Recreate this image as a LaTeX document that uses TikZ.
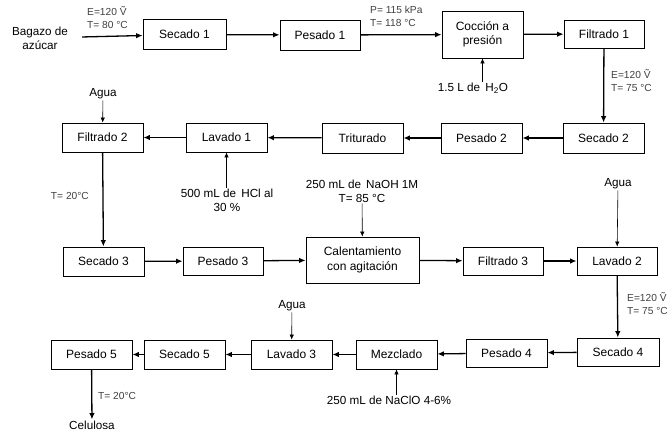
\documentclass[tikz,border=0pt]{standalone}
\usepackage{fontspec}
\setmainfont{Liberation Sans}
\usetikzlibrary{arrows.meta}

\tikzset{
  proc/.style={draw, line width=0.8pt, minimum width=81pt, minimum height=29pt, inner sep=1pt, align=center, font=\fontsize{12}{14.5}\selectfont},
  flow/.style={-{Latex[length=6.5pt,width=5.5pt]}, line width=1.3pt},
  feed/.style={-{Latex[length=5pt,width=4.5pt]}, line width=0.6pt},
  note/.style={align=center, inner sep=1pt, font=\fontsize{11.7}{14}\selectfont},
  cond/.style={align=left, inner sep=0pt, text=black!75, font=\fontsize{10.2}{13}\selectfont},
}

\begin{document}
\begin{tikzpicture}[x=1pt, y=-1pt]
			\useasboundingbox (0,0) rectangle (669,433);
			%% fila 1
			\node[note, inner xsep=14pt] (bag) at (40,38) {Bagazo de\\az\'ucar};
			\node[proc, minimum width=83pt, minimum height=30pt] (sec1) at (184.5,34.5) {Secado 1};
			\node[proc, minimum width=80pt, minimum height=30pt] (pes1) at (320,35) {Pesado 1};
			\node[proc, minimum height=47pt] (coc) at (482.5,34.5) {Cocci\'on a\\presi\'on};
			\node[proc, minimum width=80pt, minimum height=28pt] (fil1) at (604,34) {Filtrado 1};
			\node[note] (h2o) at (473,88) {1.5 L de \,H\textsubscript{2}O};
			%% fila 2
			\node[proc, minimum height=30pt] (sec2) at (603.5,138) {Secado 2};
			\node[proc, minimum height=30pt] (pes2) at (481.5,138) {Pesado 2};
			\node[proc, minimum height=30pt] (tri) at (362.5,138) {Triturado};
			\node[proc] (lav1) at (226.5,137.5) {Lavado 1};
			\node[proc] (fil2) at (102.5,137.5) {Filtrado 2};
			\node[note] (agua1) at (103,94) {Agua};
			\node[note] (hcl) at (227,200) {500 mL de \,HCl al\\30 \%};
			%% fila 3
			\node[proc] (sec3) at (103.5,261.5) {Secado 3};
			\node[proc, minimum width=80pt, minimum height=28pt] (pes3) at (223,261) {Pesado 3};
			\node[proc, minimum width=113pt, minimum height=46pt] (cal) at (362.5,260) {Calentamiento\\con agitaci\'on};
			\node[proc, minimum width=80pt, minimum height=28pt] (fil3) at (503,261) {Filtrado 3};
			\node[proc, minimum width=80pt, minimum height=28pt] (lav2) at (617,261) {Lavado 2};
			\node[note] (naoh) at (362,191) {250 mL de \,NaOH 1M\\T= 85 °C};
			\node[note] (agua2) at (618,184) {Agua};
			%% fila 4
			\node[proc, minimum width=82pt, minimum height=28pt] (sec4) at (618,352) {Secado 4};
			\node[proc, minimum height=28pt] (pes4) at (506.5,353) {Pesado 4};
			\node[proc] (mez) at (396.5,354.5) {Mezclado};
			\node[proc] (lav3) at (291.5,354.5) {Lavado 3};
			\node[proc] (sec5) at (184.5,354.5) {Secado 5};
			\node[proc] (pes5) at (91.5,354.5) {Pesado 5};
			\node[note] (agua3) at (292,306) {Agua};
			\node[note] (clo) at (389,400) {250 mL de NaClO 4-6\%};
			\node[note] (cel) at (92,425) {Celulosa};
			%% flujo principal
			\draw[flow] (bag) -- (sec1);
			\draw[flow] (sec1) -- (pes1);
			\draw[flow] (pes1) -- (coc);
			\draw[flow] (coc) -- (fil1);
			\draw[flow] (fil1) -- (sec2);
			\draw[flow] (sec2) -- (pes2);
			\draw[flow] (pes2) -- (tri);
			\draw[flow] (tri) -- (lav1);
			\draw[flow] (lav1) -- (fil2);
			\draw[flow] (fil2) -- (sec3);
			\draw[flow] (sec3) -- (pes3);
			\draw[flow] (pes3) -- (cal);
			\draw[flow] (cal) -- (fil3);
			\draw[flow] (fil3) -- (lav2);
			\draw[flow] (lav2) -- (sec4);
			\draw[flow] (sec4) -- (pes4);
			\draw[flow] (pes4) -- (mez);
			\draw[flow] (mez) -- (lav3);
			\draw[flow] (lav3) -- (sec5);
			\draw[flow] (sec5) -- (pes5);
			\draw[flow] (pes5) -- (cel);
			%% entradas
			\draw[feed] (h2o.north -| coc.south) -- (coc.south);
			\draw[feed] (agua1) -- (fil2);
			\draw[feed] (hcl.north -| lav1.south) -- (lav1.south);
			\draw[feed] (naoh) -- (cal);
			\draw[feed] (agua2) -- (lav2);
			\draw[feed] (agua3) -- (lav3);
			\draw[feed] (clo.north -| mez.south) -- (mez.south);
			%% condiciones
			\node[cond, anchor=north west] (c1) at (87,6) {E=120 Ṽ\\T= 80 °C};
			\node[cond, anchor=north west] (c2) at (370,6) {P= 115 kPa\\T= 118 °C};
			\node[cond, anchor=west] (c3) at (611,81) {E=120 Ṽ\\T= 75 °C};
			\node[cond, anchor=east] (c4) at (89,196) {T= 20°C};
			\node[cond, anchor=west] (c5) at (627,304) {E=120 Ṽ\\T= 75 °C};
			\node[cond, anchor=west] (c6) at (98,396) {T= 20°C};
		\end{tikzpicture}
\end{document}
